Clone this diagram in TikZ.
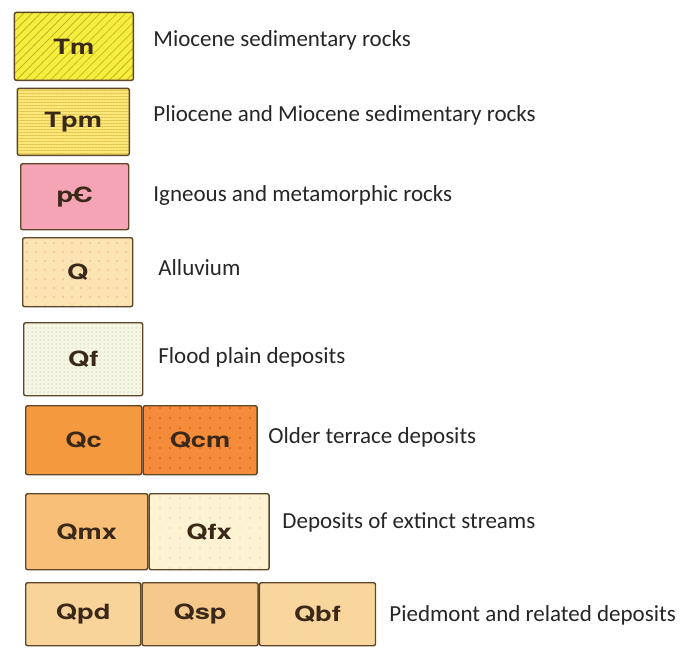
\documentclass[tikz,border=0pt]{standalone}
\usepackage{fontspec}
\setmainfont{Carlito}
\newfontfamily\unitfont[FakeStretch=1.3]{TeX Gyre Heros}
\usetikzlibrary{positioning, patterns.meta}

\definecolor{edge}{HTML}{5E4628}
\definecolor{unittext}{HTML}{3A2818}
\definecolor{lbltext}{HTML}{262626}
\definecolor{tmfill}{HTML}{F6EE3E}
\definecolor{tmline}{HTML}{C4B420}
\definecolor{tpmfill}{HTML}{FBE77A}
\definecolor{tpmline}{HTML}{E6C44E}
\definecolor{pcfill}{HTML}{F5A4B6}
\definecolor{qfill}{HTML}{FBE3B2}
\definecolor{qdot}{HTML}{F2B08E}
\definecolor{qffill}{HTML}{F6F6E4}
\definecolor{qfdot}{HTML}{9EA68C}
\definecolor{qcfill}{HTML}{F5993F}
\definecolor{qcmfill}{HTML}{F58C3A}
\definecolor{qcmdot}{HTML}{D0501E}
\definecolor{qmxfill}{HTML}{F7BF78}
\definecolor{qfxfill}{HTML}{FDF2D2}
\definecolor{qfxdot}{HTML}{F0D49A}
\definecolor{qpdfill}{HTML}{F9D49A}
\definecolor{qspfill}{HTML}{F5C88C}
\definecolor{qbffill}{HTML}{F9D69E}

\begin{document}
\begin{tikzpicture}[x=0.5pt, y=-0.5pt]

			% 定义样式
			\tikzset{
				unit/.style = {
					draw=edge, line width=0.7pt, rounded corners=1pt,
					inner sep=0pt, text=unittext,
					font=\unitfont\bfseries\fontsize{10.5}{12}\selectfont
				},
				lbl/.style = {
					anchor=west, inner sep=0pt, text=lbltext,
					font=\fontsize{11.5}{13}\selectfont
				},
				dotted fill/.style n args = {3}{
					preaction={fill=#1},
					pattern={Dots[distance=#3, radius=0.45pt]}, pattern color=#2
				}
			}

			% 参数设置
			\def \u {0.5pt}

			\useasboundingbox (0,0) rectangle (684,648);

			% 单栏
			\node[unit, anchor=north west, minimum width=119*\u, minimum height=68*\u,
				preaction={fill=tmfill},
				pattern={Lines[angle=45, distance=3pt, line width=0.4pt]}, pattern color=tmline]
				(tm) at (14,12) {Tm};
			\node[unit, anchor=north west, minimum width=112*\u, minimum height=67*\u,
				preaction={fill=tpmfill},
				pattern={Lines[angle=0, distance=1.5pt, line width=0.3pt]}, pattern color=tpmline]
				(tpm) at (17,88) {Tpm};
			\node[unit, anchor=north west, minimum width=108*\u, minimum height=66*\u,
				fill=pcfill] (pc) at (20,163) {p\rlap{\hspace{-0.08em}\rule[0.3em]{0.55em}{0.1em}}C};
			\node[unit, anchor=north west, minimum width=110*\u, minimum height=69*\u,
				dotted fill={qfill}{qdot}{4.5pt}] (q) at (22,237) {Q};
			\node[unit, anchor=north west, minimum width=119*\u, minimum height=73*\u,
				preaction={fill=qffill},
				pattern={Dots[distance=2pt, radius=0.25pt]}, pattern color=qfdot]
				(qf) at (23,322) {Qf};

			% 多栏
			\node[unit, anchor=north west, minimum width=116*\u, minimum height=69*\u,
				fill=qcfill] (qc) at (25,405) {Qc};
			\node[unit, right=0pt of qc, minimum width=114*\u, minimum height=69*\u,
				dotted fill={qcmfill}{qcmdot}{5pt}] (qcm) {Qcm};

			\node[unit, anchor=north west, minimum width=122*\u, minimum height=76*\u,
				fill=qmxfill] (qmx) at (25,493) {Qmx};
			\node[unit, right=0pt of qmx, minimum width=120*\u, minimum height=76*\u,
				dotted fill={qfxfill}{qfxdot}{5pt}] (qfx) {Qfx};

			\node[unit, anchor=north west, minimum width=115*\u, minimum height=63*\u,
				fill=qpdfill] (qpd) at (25,582) {Qpd};
			\node[unit, right=0pt of qpd, minimum width=116*\u, minimum height=63*\u,
				dotted fill={qspfill}{qfxdot}{5pt}] (qsp) {Qsp};
			\node[unit, right=0pt of qsp, minimum width=116*\u, minimum height=63*\u,
				dotted fill={qbffill}{qfxdot}{5pt}] (qbf) {Qbf};

			% 说明文字
			\node[lbl] (tm text)  at (153,40)  {Miocene sedimentary rocks};
			\node[lbl] (tpm text) at (153,115) {Pliocene and Miocene sedimentary rocks};
			\node[lbl] (pc text)  at (153,195) {Igneous and metamorphic rocks};
			\node[lbl] (q text)   at (158,268) {Alluvium};
			\node[lbl] (qf text)  at (158,357) {Flood plain deposits};
			\node[lbl] (qc text)  at (268,437) {Older terrace deposits};
			\node[lbl] (qmx text) at (282,522) {Deposits of extinct streams};
			\node[lbl] (qpd text) at (389,615) {Piedmont and related deposits};

		\end{tikzpicture}
\end{document}
